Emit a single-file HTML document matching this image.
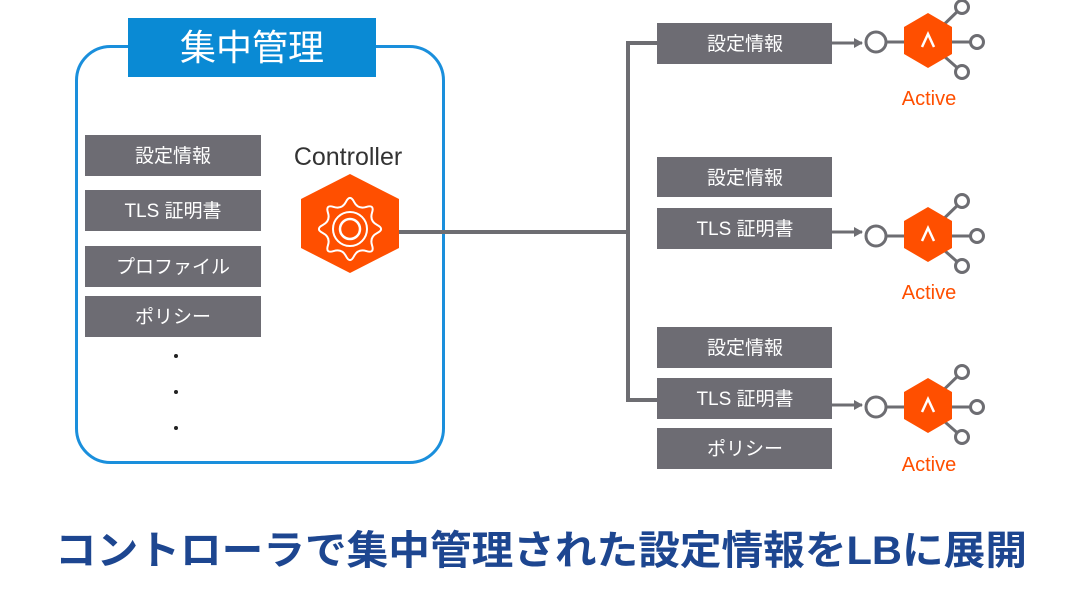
<!DOCTYPE html>
<html><head><meta charset="utf-8"><style>
html,body{margin:0;padding:0;background:#fff;}
svg{display:block;}
text{font-family:"Liberation Sans","Noto Sans CJK JP",sans-serif;}
</style></head><body>
<svg width="1082" height="604" viewBox="0 0 1082 604" xmlns="http://www.w3.org/2000/svg">
<defs>
<marker id="ar" markerWidth="10" markerHeight="10" refX="8" refY="5" orient="auto" markerUnits="userSpaceOnUse">
<path d="M0,0 L9,5 L0,10 z" fill="#6d6d72"/></marker>
<g id="lb">
<line x1="-42" y1="2" x2="0" y2="2" stroke="#6d6d72" stroke-width="3"/>
<circle cx="-52" cy="2" r="10" fill="#fff" stroke="#6d6d72" stroke-width="3"/>
<line x1="0" y1="0" x2="34" y2="-33" stroke="#6d6d72" stroke-width="3"/>
<line x1="0" y1="2" x2="43" y2="2" stroke="#6d6d72" stroke-width="3"/>
<line x1="0" y1="2" x2="34" y2="32" stroke="#6d6d72" stroke-width="3"/>
<circle cx="34" cy="-33" r="6.5" fill="#fff" stroke="#6d6d72" stroke-width="3"/>
<circle cx="49" cy="2" r="6.5" fill="#fff" stroke="#6d6d72" stroke-width="3"/>
<circle cx="34" cy="32" r="6.5" fill="#fff" stroke="#6d6d72" stroke-width="3"/>
<polygon points="0,-27 24,-13 24,14 0,28 -24,14 -24,-13" fill="#ff4f00"/>
<path d="M-6,7 L0,-6 L6,7" fill="none" stroke="#fff" stroke-width="2.5"/>
</g>
</defs>

<rect x="76.5" y="46.5" width="367" height="416" rx="34" fill="#fff" stroke="#1a8fdc" stroke-width="3"/>
<rect x="128" y="18" width="248" height="59" fill="#0a8ad4"/>
<text x="252" y="60" font-size="36" fill="#fff" text-anchor="middle">集中管理</text>

<g fill="#6d6c73">
<rect x="85" y="135" width="176" height="41"/>
<rect x="85" y="190" width="176" height="41"/>
<rect x="85" y="246" width="176" height="41"/>
<rect x="85" y="296" width="176" height="41"/>
</g>
<g font-size="19" fill="#fff" text-anchor="middle">
<text x="173" y="162">設定情報</text>
<text x="173" y="217">TLS 証明書</text>
<text x="173" y="273">プロファイル</text>
<text x="173" y="323">ポリシー</text>
</g>
<g fill="#222"><circle cx="176" cy="356" r="2"/><circle cx="176" cy="392" r="2"/><circle cx="176" cy="428" r="2"/></g>

<text x="348" y="165" font-size="25" fill="#333" text-anchor="middle">Controller</text>
<line x1="398" y1="232" x2="628" y2="232" stroke="#6d6d72" stroke-width="4"/>
<polygon points="350,174 399,199 399,248 350,273 301,248 301,199" fill="#ff4f00"/>
<g fill="none" stroke="#fff" stroke-width="2">
<path d="M346,201.8 Q350,194 354,201.8 Q358,209.6 366.35,206.95 Q374.7,204.3 372.05,212.6 Q369.4,220.96 377.2,224.98 Q385,229 377.2,233 Q369.4,237 372.05,245.35 Q374.7,253.7 366.35,251.05 Q358,248.4 354,256.2 Q350,264 346,256.2 Q342,248.4 333.65,251.05 Q325.3,253.7 327.95,245.35 Q330.6,237 322.8,233 Q315,229 322.8,225 Q330.6,221 327.95,212.65 Q325.3,204.3 333.65,206.95 Q342,209.6 346,201.8 Z"/>
<circle cx="350" cy="229" r="17"/>
<circle cx="350" cy="229" r="10" stroke-width="2.5"/>
</g>

<path d="M657,43 H628 V400 H657" fill="none" stroke="#6d6d72" stroke-width="4"/>

<g fill="#6d6c73">
<rect x="657" y="23" width="175" height="41"/>
<rect x="657" y="157" width="175" height="40"/>
<rect x="657" y="208" width="175" height="41"/>
<rect x="657" y="327" width="175" height="41"/>
<rect x="657" y="378" width="175" height="41"/>
<rect x="657" y="428" width="175" height="41"/>
</g>
<g font-size="19" fill="#fff" text-anchor="middle">
<text x="745" y="50">設定情報</text>
<text x="745" y="184">設定情報</text>
<text x="745" y="235">TLS 証明書</text>
<text x="745" y="354">設定情報</text>
<text x="745" y="405">TLS 証明書</text>
<text x="745" y="455">ポリシー</text>
</g>

<g stroke="#6d6d72" stroke-width="3" marker-end="url(#ar)">
<line x1="832" y1="43" x2="862" y2="43"/>
<line x1="832" y1="232" x2="862" y2="232"/>
<line x1="832" y1="405" x2="862" y2="405"/>
</g>
<use href="#lb" x="928" y="40"/>
<use href="#lb" x="928" y="234"/>
<use href="#lb" x="928" y="405"/>
<g font-size="20" fill="#ff4f00" text-anchor="middle">
<text x="929" y="105">Active</text>
<text x="929" y="299">Active</text>
<text x="929" y="471">Active</text>
</g>

<text x="541" y="564" font-size="40" font-weight="bold" fill="#1d4690" text-anchor="middle" textLength="972" lengthAdjust="spacingAndGlyphs">コントローラで集中管理された設定情報をLBに展開</text>
</svg>
</body></html>
